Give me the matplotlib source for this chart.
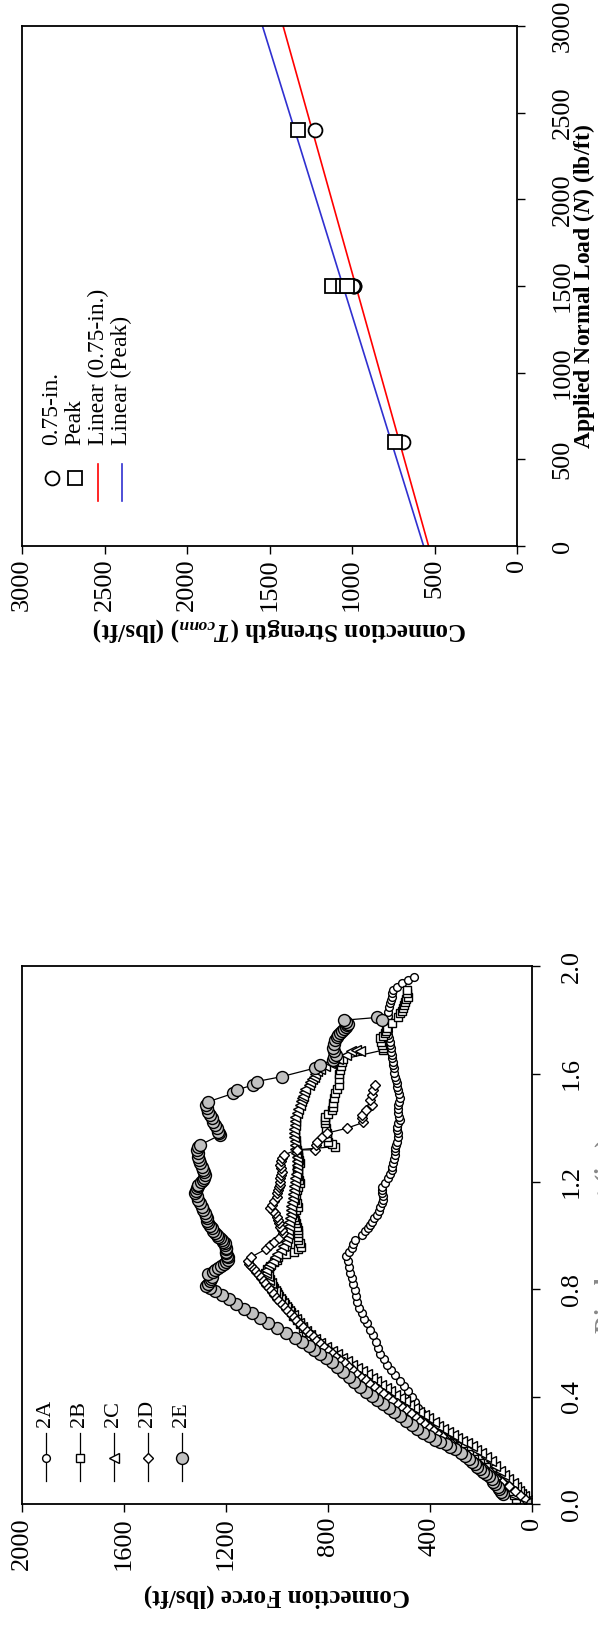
import matplotlib
matplotlib.use("Agg")
import matplotlib.pyplot as plt
import matplotlib.ticker as mticker
import numpy as np

plt.rcParams["font.family"] = ["Liberation Serif", "DejaVu Serif"]
plt.rcParams["mathtext.fontset"] = "custom"
plt.rcParams["mathtext.it"] = "Liberation Serif:italic:bold"
plt.rcParams["mathtext.rm"] = "Liberation Serif:bold"
plt.rcParams["mathtext.bf"] = "Liberation Serif:bold"

# ---- top chart: connection strength vs applied normal load ----
load_075 = [600, 1500, 1500, 1500, 2400]
strength_075 = [693, 985, 990, 994, 1222]
load_peak = [600, 1500, 1500, 1500, 2400]
strength_peak = [739, 1123, 1055, 1030, 1325]
load_ticks = [0, 500, 1000, 1500, 2000, 2500, 3000]
strength_ticks = [0, 500, 1000, 1500, 2000, 2500, 3000]

# ---- bottom chart: (displacement in., connection force lbs/ft) ----
curve_2a = [
    (0.00, 0), (0.015, 20), (0.03, 42), (0.045, 66), (0.06, 88), (0.075, 110),
    (0.09, 131), (0.105, 152), (0.12, 172), (0.135, 193), (0.15, 214),
    (0.165, 235), (0.18, 255), (0.195, 275), (0.21, 294), (0.225, 312),
    (0.24, 330), (0.26, 348), (0.28, 370), (0.30, 394), (0.32, 412),
    (0.34, 430), (0.36, 445), (0.38, 458), (0.40, 470), (0.42, 485),
    (0.44, 502), (0.46, 518), (0.48, 535), (0.50, 552), (0.52, 566),
    (0.54, 580), (0.56, 595), (0.581, 602), (0.605, 612), (0.63, 621),
    (0.65, 633), (0.674, 645), (0.69, 656), (0.711, 667), (0.73, 676),
    (0.754, 684), (0.775, 689), (0.797, 693), (0.82, 700), (0.841, 706),
    (0.862, 712), (0.884, 717), (0.905, 722), (0.925, 728), (0.94, 718),
    (0.952, 706), (0.968, 700), (0.983, 693), (1.002, 667), (1.015, 654),
    (1.027, 641), (1.04, 634), (1.051, 628), (1.064, 618), (1.076, 608),
    (1.09, 600), (1.107, 595), (1.12, 588), (1.132, 582), (1.145, 585),
    (1.157, 588), (1.17, 588), (1.181, 588), (1.195, 575), (1.212, 562),
    (1.228, 555), (1.243, 549), (1.255, 546), (1.268, 543), (1.283, 540),
    (1.299, 536), (1.312, 536), (1.324, 536), (1.337, 533), (1.349, 530),
    (1.365, 526), (1.38, 523), (1.392, 527), (1.404, 530), (1.417, 523),
    (1.429, 517), (1.441, 520), (1.454, 523), (1.47, 523), (1.485, 523),
    (1.497, 520), (1.51, 517), (1.525, 520), (1.54, 523), (1.553, 527),
    (1.566, 530), (1.578, 533), (1.59, 536), (1.605, 539), (1.621, 541),
    (1.634, 542), (1.646, 543), (1.658, 546), (1.67, 549), (1.683, 551),
    (1.696, 552), (1.708, 554), (1.72, 556), (1.733, 559), (1.745, 562),
    (1.758, 563), (1.77, 564), (1.785, 563), (1.80, 562), (1.816, 562),
    (1.832, 562), (1.848, 559), (1.863, 556), (1.875, 553), (1.887, 549),
    (1.90, 546), (1.912, 543), (1.925, 527), (1.937, 510), (1.95, 485),
    (1.962, 460)]

curve_2b = [
    (0.00, 0), (0.004, 45), (0.02, 60), (0.035, 68), (0.05, 82), (0.065, 98),
    (0.08, 112), (0.10, 135), (0.12, 157), (0.14, 180), (0.155, 202),
    (0.17, 225), (0.186, 247), (0.20, 268), (0.216, 291), (0.23, 314),
    (0.245, 336), (0.26, 358), (0.275, 381), (0.29, 404), (0.305, 426),
    (0.32, 448), (0.335, 471), (0.35, 494), (0.365, 516), (0.38, 538),
    (0.395, 561), (0.41, 583), (0.425, 605), (0.44, 628), (0.455, 650),
    (0.47, 672), (0.485, 695), (0.50, 717), (0.516, 740), (0.53, 762),
    (0.547, 785), (0.562, 808), (0.577, 830), (0.592, 845), (0.608, 860),
    (0.624, 873), (0.64, 885), (0.655, 898), (0.67, 910), (0.685, 922),
    (0.70, 935), (0.715, 945), (0.73, 955), (0.745, 967), (0.76, 978),
    (0.775, 989), (0.79, 1000), (0.805, 1012), (0.82, 1025), (0.835, 1033),
    (0.85, 1040), (0.862, 1045), (0.875, 1039), (0.888, 1025), (0.90, 1010),
    (0.91, 1000), (0.92, 994), (0.93, 962), (0.94, 934), (0.95, 915),
    (0.958, 904), (0.97, 910), (0.983, 915), (0.995, 915), (1.008, 915),
    (1.02, 918), (1.033, 922), (1.045, 925), (1.058, 928), (1.07, 932),
    (1.082, 935), (1.095, 925), (1.107, 915), (1.12, 922), (1.132, 928),
    (1.15, 925), (1.169, 922), (1.18, 915), (1.194, 909), (1.205, 912),
    (1.219, 915), (1.23, 918), (1.243, 922), (1.255, 915), (1.268, 909),
    (1.28, 912), (1.293, 915), (1.305, 918), (1.318, 922), (1.33, 771),
    (1.34, 785), (1.349, 798), (1.365, 801), (1.38, 804), (1.40, 808),
    (1.417, 811), (1.43, 811), (1.441, 811), (1.453, 798), (1.466, 784),
    (1.478, 781), (1.491, 778), (1.51, 774), (1.53, 770), (1.545, 762),
    (1.56, 755), (1.58, 755), (1.60, 755), (1.615, 752), (1.63, 748),
    (1.643, 744), (1.655, 740), (1.689, 582), (1.698, 585), (1.708, 588),
    (1.72, 591), (1.733, 595), (1.742, 585), (1.751, 575), (1.76, 572),
    (1.77, 569), (1.79, 546), (1.813, 523), (1.826, 517), (1.835, 510),
    (1.844, 504), (1.857, 500), (1.869, 497), (1.878, 492), (1.887, 486),
    (1.90, 488), (1.912, 490)]

curve_2c = [
    (0.00, 0), (0.015, 15), (0.03, 30), (0.04, 40), (0.05, 50), (0.065, 62),
    (0.08, 75), (0.095, 92), (0.11, 110), (0.125, 126), (0.143, 142),
    (0.16, 160), (0.175, 180), (0.19, 198), (0.204, 217), (0.216, 236),
    (0.228, 255), (0.237, 273), (0.247, 291), (0.258, 310), (0.27, 330),
    (0.28, 348), (0.29, 366), (0.305, 385), (0.32, 405), (0.333, 423),
    (0.345, 441), (0.358, 460), (0.37, 480), (0.383, 498), (0.395, 516),
    (0.408, 535), (0.42, 555), (0.433, 572), (0.445, 590), (0.458, 609),
    (0.47, 628), (0.483, 646), (0.495, 665), (0.508, 685), (0.52, 705),
    (0.533, 724), (0.545, 745), (0.558, 765), (0.57, 785), (0.585, 808),
    (0.60, 830), (0.615, 850), (0.63, 868), (0.645, 884), (0.66, 900),
    (0.675, 913), (0.69, 925), (0.705, 938), (0.72, 950), (0.735, 962),
    (0.75, 975), (0.765, 986), (0.78, 998), (0.795, 1008), (0.81, 1018),
    (0.822, 1024), (0.835, 1030), (0.848, 1036), (0.86, 1042), (0.872, 1040),
    (0.885, 1035), (0.895, 1025), (0.905, 1015), (0.918, 1008), (0.93, 1000),
    (0.945, 985), (0.96, 975), (0.975, 965), (0.99, 960), (1.005, 957),
    (1.02, 955), (1.035, 952), (1.05, 950), (1.065, 947), (1.08, 945),
    (1.095, 943), (1.11, 942), (1.125, 940), (1.14, 938), (1.155, 936),
    (1.17, 934), (1.185, 932), (1.20, 930), (1.215, 927), (1.23, 925),
    (1.245, 922), (1.26, 920), (1.275, 919), (1.29, 919), (1.305, 923),
    (1.32, 927), (1.335, 929), (1.35, 930), (1.365, 932), (1.38, 934),
    (1.395, 932), (1.41, 930), (1.425, 929), (1.44, 927), (1.455, 921),
    (1.47, 915), (1.485, 910), (1.50, 904), (1.51, 900), (1.52, 895),
    (1.533, 892), (1.545, 889), (1.56, 875), (1.57, 868), (1.58, 860),
    (1.59, 855), (1.60, 850), (1.61, 840), (1.62, 830), (1.63, 810),
    (1.64, 790), (1.655, 760), (1.67, 730), (1.685, 710), (1.69, 690),
    (1.685, 673)]

curve_2d = [
    (0.00, 0), (0.01, 10), (0.02, 25), (0.035, 45), (0.05, 65), (0.068, 90),
    (0.085, 115), (0.10, 140), (0.12, 165), (0.135, 186), (0.15, 208),
    (0.165, 229), (0.18, 250), (0.195, 271), (0.21, 292), (0.225, 314),
    (0.24, 335), (0.253, 352), (0.265, 370), (0.278, 388), (0.29, 405),
    (0.303, 422), (0.315, 440), (0.328, 457), (0.34, 475), (0.353, 494),
    (0.365, 512), (0.378, 530), (0.39, 548), (0.403, 567), (0.415, 585),
    (0.428, 602), (0.44, 620), (0.453, 638), (0.465, 655), (0.478, 672),
    (0.49, 690), (0.503, 706), (0.515, 722), (0.528, 738), (0.54, 755),
    (0.553, 771), (0.565, 787), (0.578, 803), (0.59, 818), (0.603, 833),
    (0.615, 848), (0.628, 862), (0.64, 876), (0.653, 889), (0.665, 902),
    (0.678, 915), (0.69, 928), (0.703, 940), (0.715, 952), (0.728, 964),
    (0.74, 976), (0.753, 987), (0.765, 998), (0.778, 1009), (0.79, 1020),
    (0.803, 1030), (0.815, 1040), (0.828, 1050), (0.84, 1060), (0.853, 1070),
    (0.865, 1080), (0.875, 1090), (0.885, 1099), (0.895, 1107), (0.905, 1114),
    (0.92, 1100), (0.95, 1040), (0.963, 1025), (0.976, 1009), (0.992, 990),
    (1.008, 974), (1.02, 980), (1.033, 987), (1.045, 990), (1.058, 994),
    (1.07, 1000), (1.082, 1007), (1.092, 1016), (1.101, 1026), (1.113, 1020),
    (1.128, 1010), (1.144, 1000), (1.157, 997), (1.169, 994), (1.18, 990),
    (1.188, 987), (1.20, 987), (1.212, 987), (1.225, 984), (1.237, 981),
    (1.25, 984), (1.262, 987), (1.275, 984), (1.287, 981), (1.30, 970),
    (1.318, 921), (1.318, 850), (1.335, 846), (1.349, 843), (1.365, 823),
    (1.38, 804), (1.398, 726), (1.42, 660), (1.435, 664), (1.448, 667),
    (1.465, 648), (1.485, 628), (1.503, 634), (1.522, 628), (1.54, 621),
    (1.559, 615)]

curve_2e = [
    (0.00, 0), (0.039, 112), (0.048, 120), (0.057, 127), (0.066, 134),
    (0.076, 142), (0.085, 150), (0.094, 157), (0.104, 168), (0.113, 179),
    (0.122, 190), (0.131, 202), (0.14, 213), (0.149, 224), (0.158, 236),
    (0.168, 247), (0.18, 262), (0.192, 277), (0.205, 300), (0.215, 320),
    (0.223, 336), (0.232, 358), (0.241, 381), (0.253, 403), (0.265, 426),
    (0.28, 448), (0.296, 471), (0.311, 493), (0.327, 516), (0.342, 538),
    (0.357, 561), (0.372, 583), (0.388, 605), (0.403, 628), (0.418, 650),
    (0.436, 672), (0.455, 695), (0.473, 718), (0.492, 740), (0.51, 762),
    (0.528, 785), (0.543, 808), (0.559, 830), (0.574, 852), (0.589, 874),
    (0.605, 902), (0.62, 930), (0.637, 965), (0.655, 1000), (0.673, 1033),
    (0.692, 1065), (0.71, 1097), (0.728, 1129), (0.746, 1158), (0.765, 1188),
    (0.779, 1215), (0.793, 1241), (0.803, 1262), (0.811, 1278), (0.82, 1270),
    (0.83, 1262), (0.838, 1258), (0.845, 1255), (0.857, 1270), (0.865, 1250),
    (0.873, 1240), (0.88, 1230), (0.888, 1217), (0.895, 1205), (0.903, 1197),
    (0.91, 1190), (0.918, 1192), (0.925, 1195), (0.933, 1198), (0.94, 1200),
    (0.948, 1200), (0.955, 1200), (0.963, 1201), (0.971, 1203), (0.977, 1210),
    (0.983, 1216), (0.989, 1222), (0.995, 1229), (1.002, 1236), (1.008, 1242),
    (1.017, 1249), (1.027, 1255), (1.036, 1262), (1.045, 1268), (1.055, 1272),
    (1.064, 1275), (1.073, 1278), (1.082, 1281), (1.095, 1288), (1.107, 1294),
    (1.12, 1300), (1.132, 1307), (1.145, 1314), (1.157, 1321), (1.166, 1318),
    (1.175, 1314), (1.182, 1310), (1.188, 1307), (1.197, 1298), (1.206, 1288),
    (1.215, 1284), (1.225, 1281), (1.234, 1284), (1.243, 1288), (1.255, 1294),
    (1.268, 1301), (1.28, 1304), (1.293, 1307), (1.305, 1310), (1.318, 1314),
    (1.327, 1308), (1.336, 1301), (1.373, 1222), (1.38, 1225), (1.386, 1229),
    (1.398, 1236), (1.41, 1242), (1.423, 1249), (1.436, 1255), (1.448, 1262),
    (1.46, 1268), (1.472, 1272), (1.485, 1276), (1.497, 1268), (1.528, 1170),
    (1.541, 1157), (1.559, 1092), (1.572, 1079), (1.59, 981), (1.622, 850),
    (1.634, 830), (1.653, 780), (1.662, 774), (1.671, 768), (1.684, 774),
    (1.697, 780), (1.712, 776), (1.727, 772), (1.736, 765), (1.745, 758),
    (1.753, 750), (1.761, 743), (1.769, 735), (1.776, 727), (1.782, 723),
    (1.787, 719), (1.794, 727), (1.80, 735), (1.81, 608), (1.80, 588)]

series_names = ["2A", "2B", "2C", "2D", "2E"]
force_ticks = [0, 400, 800, 1200, 1600, 2000]
disp_ticks = [0.0, 0.4, 0.8, 1.2, 1.6, 2.0]

# the page is turned on its side: the horizontal axis carries the force /
# strength (running right to left), the vertical one the load / displacement
fig = plt.figure(figsize=(5.98, 16.28), dpi=100)
ax1 = fig.add_axes([0.0368, 0.6646, 0.8278, 0.3194])
ax2 = fig.add_axes([0.0363, 0.0759, 0.8528, 0.3305])


def style_axes(ax, xticks, yticks, xmax, ymax, fs, ypad):
    ax.set_xlim(xmax, 0)
    ax.set_ylim(0, ymax)
    ax.set_xticks(xticks)
    ax.set_yticks(yticks)
    ax.yaxis.tick_right()
    ax.yaxis.set_label_position("right")
    ax.tick_params(direction="out", length=6, width=1.0, labelsize=fs,
                   top=False, left=False)
    ax.tick_params(axis="x", labelrotation=90, pad=3)
    ax.tick_params(axis="y", labelrotation=90, pad=ypad)
    for sp in ax.spines.values():
        sp.set_linewidth(1.3)


# top chart
style_axes(ax1, strength_ticks, load_ticks, 3000, 3000, 19, 19)
for lab in ax1.get_yticklabels():
    lab.set_va("center")
load_line = np.array([0, 3000])
fit_075 = np.polyfit(load_075, strength_075, 1)
fit_peak = np.polyfit(load_peak, strength_peak, 1)
ax1.plot(np.polyval(fit_075, load_line), load_line, color="#ff0000", lw=1.2)
ax1.plot(np.polyval(fit_peak, load_line), load_line, color="#3030d0", lw=1.2)
ax1.plot(strength_075, load_075, "o", ms=10, mfc="white", mec="black", mew=1.3)
ax1.plot(strength_peak, load_peak, "s", ms=10, mfc="white", mec="black", mew=1.3)
ax1.set_xlabel("Connection Strength ($T_{conn}$) (lbs/ft)", rotation=180,
               fontsize=18, fontweight="bold", labelpad=8)
ax1.xaxis.set_label_coords(0.52, -0.135)
ax1.set_ylabel("Applied Normal Load ($N$) (lb/ft)", fontsize=17,
               fontweight="bold")
ax1.yaxis.set_label_coords(1.11, 0.5)

top_keys = [("0.75-in.", dict(marker="o", ls="none", ms=10, mfc="white", mec="black", mew=1.3)),
            ("Peak", dict(marker="s", ls="none", ms=10, mfc="white", mec="black", mew=1.3)),
            ("Linear (0.75-in.)", dict(color="#ff0000", lw=1.2)),
            ("Linear (Peak)", dict(color="#3030d0", lw=1.2))]
for i, (lab, st) in enumerate(top_keys):
    x = 0.0596 + i * 0.0472
    if st.get("marker"):
        ax1.plot([x], [0.131], transform=ax1.transAxes, clip_on=False, **st)
    else:
        ax1.plot([x, x], [0.087, 0.157], transform=ax1.transAxes, **st)
    ax1.text(x, 0.194, lab, rotation=90, ha="center", va="bottom",
             fontsize=17, transform=ax1.transAxes)

# bottom chart
style_axes(ax2, force_ticks, disp_ticks, 2000, 2.0, 19, 15)
ax2.yaxis.set_major_formatter(mticker.FormatStrFormatter("%.1f"))
for lab in ax2.get_yticklabels():
    lab.set_va("center")

styles = [dict(marker="o", ms=5.6, mfc="white"),
          dict(marker="s", ms=6.0, mfc="white"),
          dict(marker="<", ms=7.0, mfc="white"),
          dict(marker="D", ms=5.0, mfc="white"),
          dict(marker="o", ms=8.6, mfc="#c0c0c0")]
curves = [curve_2a, curve_2b, curve_2c, curve_2d, curve_2e]
for curve, st in zip(curves, styles):
    d, f = np.array(curve).T
    ax2.plot(f, d, color="black", lw=0.9, mec="black", mew=1.0, **st)

for i, name in enumerate(series_names):
    x = 0.047 + i * 0.0668
    ax2.plot([x, x], [0.043, 0.132], color="black", lw=0.9,
             transform=ax2.transAxes)
    ax2.plot([x], [0.087], color="black", mec="black", mew=1.0,
             transform=ax2.transAxes, **styles[i])
    ax2.text(x, 0.143, name, rotation=90, ha="center", va="bottom",
             fontsize=16, transform=ax2.transAxes)

ax2.set_xlabel("Connection Force (lbs/ft)", rotation=180, fontsize=18,
               fontweight="bold", labelpad=10)
# in the source page this label runs off the right edge of the sheet
ax2.set_ylabel("Displacement (in.)", fontsize=18, fontweight="bold",
               color="#888888")
ax2.yaxis.set_label_coords(1.124, 0.5)

fig.savefig("out.png", dpi=100)
